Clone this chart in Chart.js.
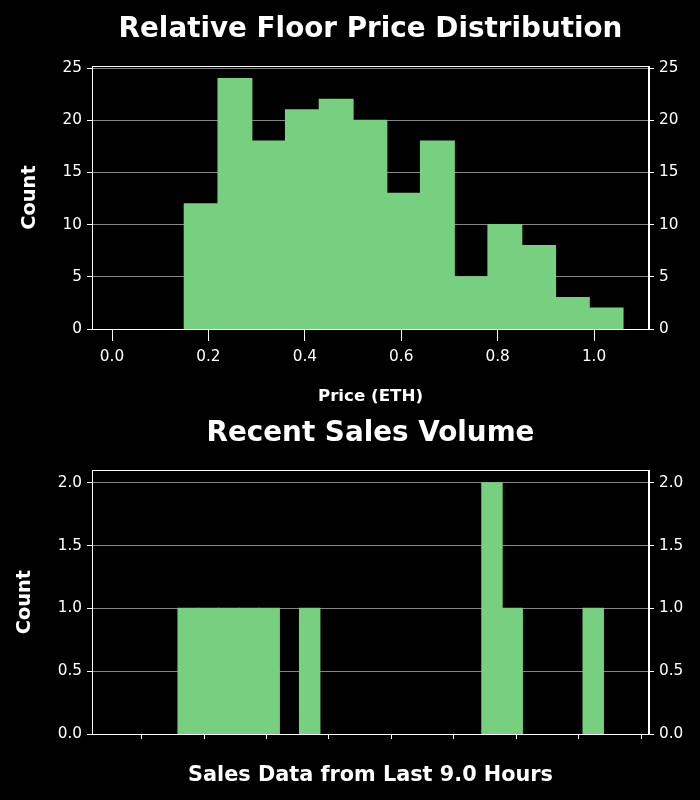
<!DOCTYPE html>
<html>
<head>
<meta charset="utf-8">
<script src="https://cdn.jsdelivr.net/npm/chart.js@4"></script>
<style>
  body { margin: 0; background: #000; }
  #wrap { position: relative; width: 700px; height: 800px; background: #000; }
  canvas { position: absolute; left: 0; }
</style>
</head>
<body>
<div id="wrap">
  <canvas id="priceChart" width="700" height="410" style="top:0"></canvas>
  <canvas id="salesChart" width="700" height="390" style="top:410px"></canvas>
</div>
<script>
// Floor price histogram (bin edges in ETH, counts per bin)
const priceEdges = [0.15, 0.22, 0.29, 0.36, 0.43, 0.50, 0.57, 0.64, 0.71, 0.78, 0.85, 0.92, 0.99, 1.06];
const priceCounts = [12, 24, 18, 21, 22, 20, 13, 18, 5, 10, 8, 3, 2];
const priceTicks = [0, 0.2, 0.4, 0.6, 0.8, 1.0];
const priceCountTicks = [0, 5, 10, 15, 20, 25];

// Sales volume histogram (hours, 25 bins, tick labels hidden)
const salesBinStart = -0.389;
const salesBinWidth = 0.3243;
const salesCounts = [0, 0, 0, 1, 1, 1, 1, 1, 0, 1, 0, 0, 0, 0, 0, 0, 0, 0, 2, 1, 0, 0, 0, 1, 0];
const salesTicks = [0, 1, 2, 3, 4, 5, 6, 7, 8];
const salesCountTicks = [0, 0.5, 1.0, 1.5, 2.0];

const barColor = "#77cf80";
const gridColor = "#858585";
const FONT = "'DejaVu Sans', sans-serif";

Chart.defaults.font.family = FONT;
Chart.defaults.color = "#ffffff";
Chart.defaults.animation = false;

// white box round the plot area
const framePlugin = {
  id: "frame",
  afterDraw(chart) {
    const { ctx, chartArea: a } = chart;
    ctx.save();
    ctx.strokeStyle = "#ffffff";
    ctx.lineWidth = 1;
    ctx.strokeRect(Math.round(a.left) + 0.5, Math.round(a.top) + 0.5,
      Math.round(a.right - a.left) - 1, Math.round(a.bottom - a.top));
    ctx.restore();
  },
};

function setTicks(list) {
  return (scale) => { scale.ticks = list.map((v) => ({ value: v })); };
}

function yAxis(pos, max, ticks, fmt, width, titleText, titlePad) {
  return {
    type: "linear",
    position: pos,
    min: 0,
    max: max,
    z: 1,
    afterBuildTicks: setTicks(ticks),
    afterFit: (s) => { s.width = width; },
    grid: {
      display: true,
      color: gridColor,
      tickColor: "#ffffff",
      drawOnChartArea: pos === "left",
      tickLength: 5,
    },
    border: { display: true, color: "#ffffff" },
    ticks: { padding: 5, font: { size: 15.3 }, color: "#ffffff", callback: fmt },
    title: {
      display: !!titleText,
      text: titleText,
      font: { size: 19.4, weight: "bold" },
      color: "#ffffff",
      padding: { top: titlePad, bottom: 0 },
    },
  };
}

function histDataset(points) {
  return {
    data: points,
    backgroundColor: barColor,
    borderWidth: 0,
    inflateAmount: 0.6,
    barPercentage: 1,
    categoryPercentage: 1,
  };
}

// top chart
const priceData = priceCounts.map((c, i) => ({
  x: (priceEdges[i] + priceEdges[i + 1]) / 2,
  y: c,
}));

new Chart(document.getElementById("priceChart"), {
  type: "bar",
  data: { datasets: [histDataset(priceData)] },
  options: {
    responsive: false,
    devicePixelRatio: 1,
    layout: { padding: 0 },
    plugins: {
      legend: { display: false },
      tooltip: { enabled: false },
      title: {
        display: true,
        text: "Relative Floor Price Distribution",
        fullSize: false,
        color: "#ffffff",
        font: { size: 27.8, weight: "bold" },
        padding: { top: 13.5, bottom: 19.2 },
      },
    },
    scales: {
      x: {
        type: "linear",
        offset: false,
        min: -0.0415,
        max: 1.114,
        afterBuildTicks: setTicks(priceTicks),
        afterFit: (s) => { s.height = 81; },
        grid: { display: true, offset: false, drawOnChartArea: false, tickColor: "#ffffff", tickLength: 12 },
        border: { color: "#ffffff" },
        ticks: { padding: 6.5, font: { size: 15.3 }, color: "#ffffff", callback: (v) => v.toFixed(1) },
        title: {
          display: true,
          text: "Price (ETH)",
          font: { size: 16.7, weight: "bold" },
          color: "#ffffff",
          padding: { top: 0, bottom: 3.5 },
        },
      },
      y: yAxis("left", 25.2, priceCountTicks, (v) => String(v), 92, "Count", 18.5),
      y2: yAxis("right", 25.2, priceCountTicks, (v) => String(v), 51, "", 0),
    },
  },
  plugins: [framePlugin],
});

// bottom chart
const salesData = salesCounts.map((c, i) => ({
  x: salesBinStart + (i + 0.5) * salesBinWidth,
  y: c || null,
}));

new Chart(document.getElementById("salesChart"), {
  type: "bar",
  data: { datasets: [histDataset(salesData)] },
  options: {
    responsive: false,
    devicePixelRatio: 1,
    layout: { padding: 0 },
    plugins: {
      legend: { display: false },
      tooltip: { enabled: false },
      title: {
        display: true,
        text: "Recent Sales Volume",
        fullSize: false,
        color: "#ffffff",
        font: { size: 27.8, weight: "bold" },
        padding: { top: 7.5, bottom: 19.4 },
      },
    },
    scales: {
      x: {
        type: "linear",
        offset: false,
        min: -0.794,
        max: 8.125,
        afterBuildTicks: setTicks(salesTicks),
        afterFit: (s) => { s.height = 66; },
        grid: { display: true, offset: false, drawOnChartArea: false, tickColor: "#ffffff", tickLength: 5 },
        border: { color: "#ffffff" },
        ticks: { autoSkip: false, callback: () => "" },
        title: {
          display: true,
          text: "Sales Data from Last 9.0 Hours",
          font: { size: 20.8, weight: "bold" },
          color: "#ffffff",
          padding: { top: 0, bottom: 12 },
        },
      },
      y: yAxis("left", 2.1, salesCountTicks, (v) => v.toFixed(1), 92, "Count", 13.3),
      y2: yAxis("right", 2.1, salesCountTicks, (v) => v.toFixed(1), 51, "", 0),
    },
  },
  plugins: [framePlugin],
});
</script>
</body>
</html>
